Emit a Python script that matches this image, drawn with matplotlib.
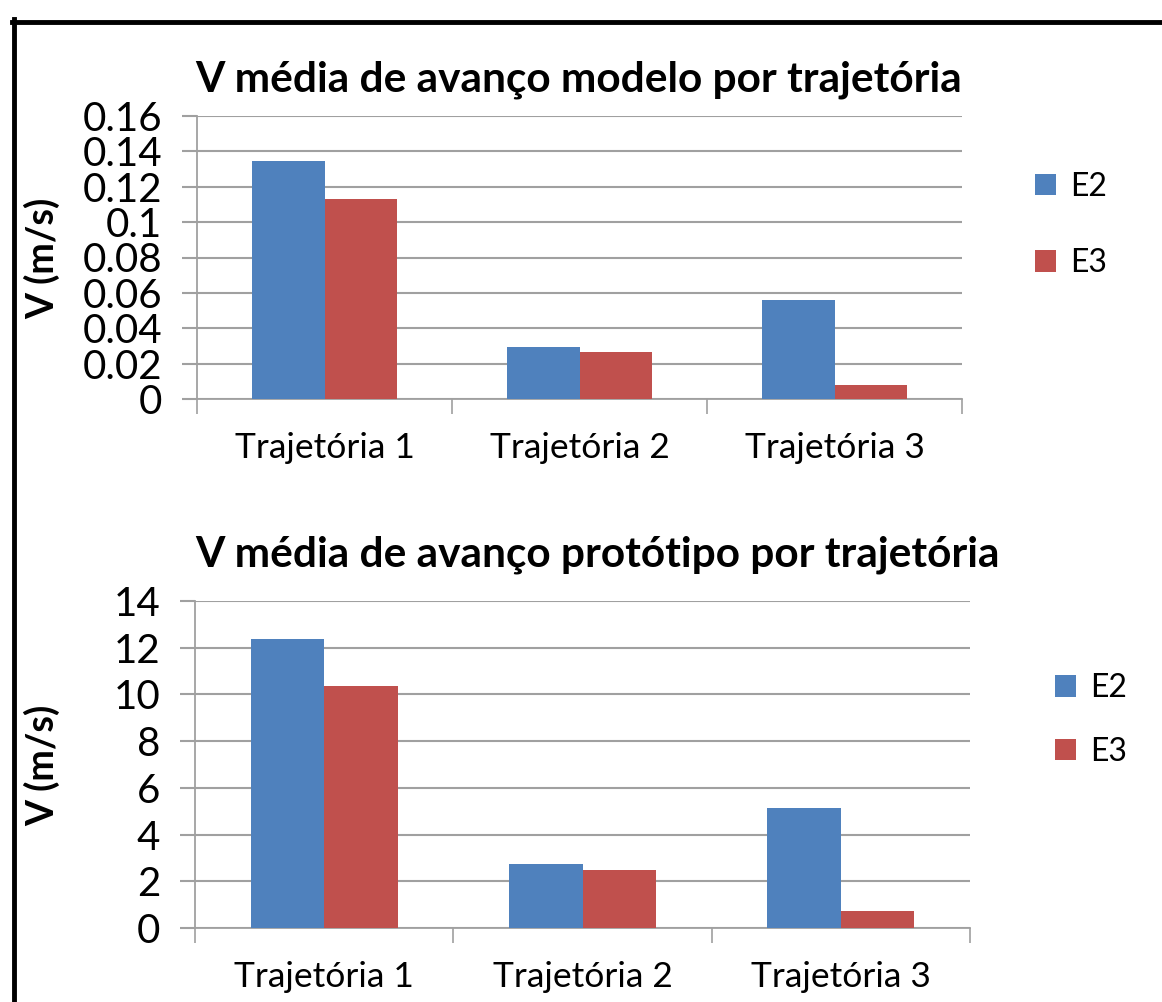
import matplotlib
matplotlib.use("Agg")
import matplotlib.pyplot as plt
import numpy as np
from matplotlib.lines import Line2D
from matplotlib.patches import Patch

categories = ["Trajetória 1", "Trajetória 2", "Trajetória 3"]
series_names = ["E2", "E3"]
modelo_e2 = [0.1343, 0.0295, 0.0557]
modelo_e3 = [0.1129, 0.0268, 0.0077]
prototipo_e2 = [12.37, 2.72, 5.14]
prototipo_e3 = [10.38, 2.48, 0.72]
modelo_yticks = [0, 0.02, 0.04, 0.06, 0.08, 0.1, 0.12, 0.14, 0.16]
modelo_ylabels = ["0", "0.02", "0.04", "0.06", "0.08", "0.1", "0.12", "0.14", "0.16"]
prototipo_yticks = [0, 2, 4, 6, 8, 10, 12, 14]
prototipo_ylabels = ["0", "2", "4", "6", "8", "10", "12", "14"]
title_top = "V média de avanço modelo por trajetória"
title_bottom = "V média de avanço protótipo por trajetória"
ylabel = "V (m/s)"

BLUE = "#4F81BD"
RED = "#C0504D"
GRID = "#A0A0A0"
FONT = ["Lato", "DejaVu Sans"]

W, H = 1162, 1002
fig = plt.figure(figsize=(W / 100, H / 100), dpi=100)
plt.rcParams['font.family'] = FONT


def px_axes(x0, y0, x1, y1):
    return fig.add_axes([x0 / W, 1 - y1 / H, (x1 - x0) / W, (y1 - y0) / H])


def draw(ax, e2, e3, yticks, ylabels, title, title_x, title_y, ylabel_y, leg_x, leg_y, leg_sp):
    n = len(categories)
    x = np.arange(n)
    bw = 0.285
    ax.bar(x - bw / 2, e2, bw, color=BLUE, zorder=3)
    ax.bar(x + bw / 2, e3, bw, color=RED, zorder=3)
    ax.set_xlim(-0.5, n - 0.5)
    ax.set_ylim(yticks[0], yticks[-1])
    ax.set_yticks(yticks)
    ax.set_yticklabels(ylabels, fontsize=29)
    ax.set_xticks(np.arange(n + 1) - 0.5)
    ax.set_xticklabels([])
    ax.set_xticks(x, minor=True)
    ax.set_xticklabels(categories, minor=True, fontsize=25.5)
    ax.tick_params(axis='x', which='minor', length=0, pad=24)
    ax.tick_params(axis='x', which='major', length=11, width=1.2, color=GRID, direction='out')
    ax.tick_params(axis='y', length=11, width=1.5, color=GRID, direction='out', pad=14)
    ax.grid(axis='y', color=GRID, linewidth=1.5, zorder=0)
    for s in ['top', 'right']:
        ax.spines[s].set_visible(False)
    for s in ['left', 'bottom']:
        ax.spines[s].set_color(GRID)
        ax.spines[s].set_linewidth(1.3)
    fig.text(title_x / W, 1 - title_y / H, title, ha='center', va='center',
             fontsize=30.5, fontweight='bold')
    fig.text(42 / W, 1 - ylabel_y / H, ylabel, rotation=90, ha='center', va='center',
             fontsize=27, fontweight='bold')
    handles = [Patch(facecolor=BLUE), Patch(facecolor=RED)]
    fig.legend(handles, series_names, loc='center left',
               bbox_to_anchor=(leg_x / W, 1 - leg_y / H), frameon=False,
               fontsize=23, handlelength=0.65, handleheight=0.65, handletextpad=0.45,
               labelspacing=leg_sp, borderpad=0, borderaxespad=0)


ax1 = px_axes(197, 116, 962, 399)
draw(ax1, modelo_e2, modelo_e3, modelo_yticks, modelo_ylabels,
     title_top, 579, 80, 258, 1035, 225, 1.45)
ax2 = px_axes(195, 601, 970, 928)
draw(ax2, prototipo_e2, prototipo_e3, prototipo_yticks, prototipo_ylabels,
     title_bottom, 597, 555, 765, 1055, 720, 1.05)

# outer frame (partially cropped)
fig.add_artist(Line2D([14 / W, 14 / W], [1 - 19 / H, 0], color='black', lw=3.5, transform=fig.transFigure))
fig.add_artist(Line2D([12 / W, 1], [1 - 21.5 / H, 1 - 21.5 / H], color='black', lw=3.5, transform=fig.transFigure))

fig.savefig("out.png", dpi=100)
